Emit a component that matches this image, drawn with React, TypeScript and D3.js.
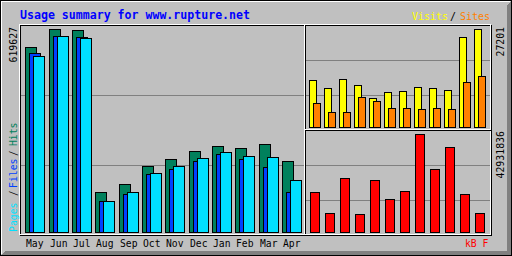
import React from 'react';
import * as d3 from 'd3';

const months = ['May', 'Jun', 'Jul', 'Aug', 'Sep', 'Oct', 'Nov', 'Dec', 'Jan', 'Feb', 'Mar', 'Apr'];
const hits = [563800, 619627, 617500, 121200, 146500, 200500, 221900, 246300, 262500, 255400, 267700, 215800];
const files = [545400, 598300, 594300, 94600, 116000, 177000, 192300, 216700, 238100, 222800, 198400, 122100];
const pages = [537200, 597000, 591200, 94000, 122100, 180100, 201500, 225000, 243300, 232000, 228000, 157800];
const visits = [12960, 10740, 13240, 11570, 7960, 9630, 9910, 11020, 10740, 10190, 24900, 27201];
const sites = [6580, 4080, 4080, 8240, 7130, 5190, 5190, 4910, 5190, 4910, 12400, 14070];
const kbytes = [17390000, 8190000, 23520000, 7750000, 22650000, 14330000, 17830000, 42931836, 27470000, 37100000, 16520000, 8190000];
const titleText = 'Usage summary for www.rupture.net';

const C = {
  grey: '#c0c0c0', dk: '#808080', black: '#000000', white: '#ffffff',
  hit: '#00805c', file: '#0040ff', page: '#00e0ff', visit: '#ffff00', site: '#ff8000', kb: '#ff0000', title: '#0000ff',
};

const MONO = '"DejaVu Sans Mono", "Liberation Mono", monospace';

// pixel-inclusive filled rect
const P = (x1: number, y1: number, x2: number, y2: number, fill: string, key?: string) => (
  <rect key={key} x={x1} y={y1} width={x2 - x1 + 1} height={y2 - y1 + 1} fill={fill} />
);
// gd-style outline rectangle
const R = (x1: number, y1: number, x2: number, y2: number, c: string, key: string) => (
  <g key={key}>
    {P(x1, y1, x2, y1, c)}
    {P(x1, y2, x2, y2, c)}
    {P(x1, y1, x1, y2, c)}
    {P(x2, y1, x2, y2, c)}
  </g>
);
const Bar = (x1: number, y1: number, x2: number, y2: number, fill: string, key: string) => (
  <g key={key}>
    {P(x1, y1, x2, y2, fill)}
    {R(x1, y1, x2, y2, C.black, key + 'o')}
  </g>
);

export default function App() {
  const W = 512, H = 256;
  const xMain = d3.scaleLinear().domain([0, 12]).range([25.9, 305.9]);
  const yMain = d3.scaleLinear().domain([0, d3.max(hits)!]).range([232, 29]);
  const xSmall = d3.scaleLinear().domain([0, 12]).range([309, 489]);
  const yVis = d3.scaleLinear().domain([0, d3.max(visits)!]).range([127, 29]);
  const yKb = d3.scaleLinear().domain([0, d3.max(kbytes)!]).range([232, 134]);

  const mx = (i: number) => Math.floor(xMain(i));
  const els: any[] = [];

  // background
  els.push(P(0, 0, W - 1, H - 1, C.grey, 'bg'));
  els.push(R(0, 0, W - 1, H - 1, C.black, 'outer'));
  els.push(P(1, 1, W - 3, 1, C.white, 'wt'));
  els.push(P(1, 1, 1, H - 3, C.white, 'wl'));
  for (let i = 1; i < 5; i++) {
    els.push(P(i + 1, H - i - 1, W - i - 1, H - i - 1, C.dk, 'sb' + i));
    els.push(P(W - i - 1, i + 1, W - i - 1, H - i - 1, C.dk, 'sr' + i));
  }
  // inner box
  els.push(R(20, 25, W - 21, H - 21, C.black, 'ib'));
  els.push(R(19, 24, W - 22, H - 22, C.white, 'iw'));
  // section lines
  els.push(P(305, 25, 305, 233, C.black, 's1'));
  els.push(P(304, 25, 304, 233, C.white, 's2'));
  els.push(P(305, 130, 490, 130, C.black, 's3'));
  els.push(P(305, 129, 490, 129, C.white, 's4'));

  // grid lines
  [95, 165].forEach((y, k) => els.push(P(21, y, 303, y, C.dk, 'gm' + k)));
  [60, 95].forEach((y, k) => els.push(P(306, y, 489, y, C.dk, 'gv' + k)));
  [165, 200].forEach((y, k) => els.push(P(306, y, 489, y, C.dk, 'gk' + k)));

  // main bars
  hits.forEach((v, i) => els.push(Bar(mx(i), Math.round(yMain(v)), mx(i) + 11, 232, C.hit, 'h' + i)));
  files.forEach((v, i) => els.push(Bar(mx(i) + 4, Math.round(yMain(v)), mx(i) + 15, 232, C.file, 'f' + i)));
  pages.forEach((v, i) => els.push(Bar(mx(i) + 8, Math.round(yMain(v)), mx(i) + 19, 232, C.page, 'p' + i)));

  // visits / sites
  visits.forEach((v, i) => {
    const x = Math.round(xSmall(i));
    els.push(Bar(x, Math.round(yVis(v)), x + 7, 127, C.visit, 'v' + i));
  });
  sites.forEach((v, i) => {
    const x = Math.round(xSmall(i)) + 4;
    els.push(Bar(x, Math.round(yVis(v)), x + 7, 127, C.site, 's' + i));
  });
  // kbytes
  kbytes.forEach((v, i) => {
    const x = Math.round(xSmall(i)) + 1;
    els.push(Bar(x, Math.round(yKb(v)), x + 9, 232, C.kb, 'k' + i));
  });

  const txt = { fontFamily: MONO, fontSize: 11 } as any;
  const T = (x: number, y: number, s: string, fill: string, key: string, anchor = 'start', rot = false) => (
    <text key={key} transform={rot ? `translate(${x},${y}) rotate(-90)` : `translate(${x},${y})`}
      fill={fill} textAnchor={anchor} style={txt}
      textLength={s.length * 6 - 0.5} lengthAdjust="spacingAndGlyphs">{s}</text>
  );

  return (
    <svg width={W} height={H} style={{ position: 'fixed', left: 0, top: 0 }} shapeRendering="crispEdges">
      {els}
      <text x={20} y={19} fill={C.title} style={{ fontFamily: MONO, fontSize: 11.5, fontWeight: 'bold' }}
        textLength={titleText.length * 7 - 1} lengthAdjust="spacingAndGlyphs">{titleText}</text>
      <text y={20} style={{ fontFamily: MONO, fontSize: 10 }}>
        <tspan x={412} fill={C.visit}>Visits</tspan>
        <tspan x={450} fill={C.black}>/</tspan>
        <tspan x={460} fill={C.site}>Sites</tspan>
      </text>
      {months.map((m, i) => T(mx(i) + 1, 247, m, C.black, 'm' + i))}
      {T(465, 247, 'kB F', C.kb, 'kbf')}
      {T(17, 27, String(d3.max(hits)), C.black, 'lh', 'end', true)}
      {T(504, 27, String(d3.max(visits)), C.black, 'lv', 'end', true)}
      {T(504, 131, String(d3.max(kbytes)), C.black, 'lk', 'end', true)}
      {T(16.5, 232, 'Pages', C.page, 'lp', 'start', true)}
      {T(16.5, 196, '/', C.black, 'ls1', 'start', true)}
      {T(16.5, 188, 'Files', C.file, 'lf', 'start', true)}
      {T(16.5, 156, '/', C.black, 'ls2', 'start', true)}
      {T(16.5, 146, 'Hits', C.hit, 'lhi', 'start', true)}
    </svg>
  );
}
